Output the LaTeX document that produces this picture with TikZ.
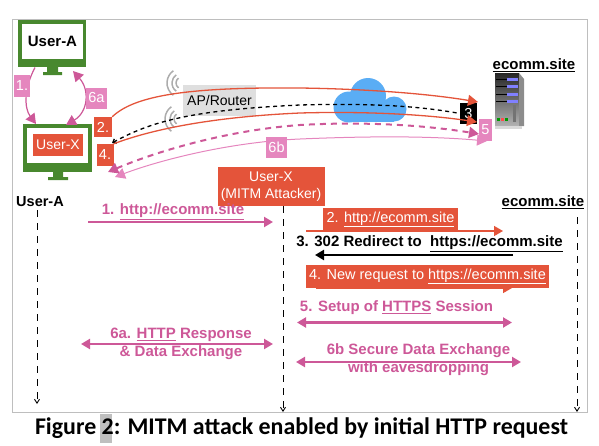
\documentclass[tikz,border=0pt]{standalone}
\usepackage{fontspec}
\usepackage{xcolor}
\usetikzlibrary{calc,arrows.meta,positioning}
\setmainfont{Liberation Sans}
\newfontfamily\captionfont{Carlito}
\definecolor{mitmGreen}{RGB}{72,136,46}
\definecolor{mitmRed}{RGB}{228,84,58}
\definecolor{mitmPink}{RGB}{205,88,152}
\definecolor{mitmPinkLight}{RGB}{229,134,190}
\definecolor{mitmBlue}{RGB}{90,173,245}
\definecolor{mitmFrame}{RGB}{190,190,190}
\tikzset{
    tag/.style={inner sep=0pt, text=white, font=\fontsize{14.5}{17}\selectfont},
    seqlabel/.style={inner sep=0pt, align=center, font=\bfseries\fontsize{15}{18}\selectfont},
    lifeline/.style={black, line width=0.9pt, dash pattern=on 7pt off 6pt, -{Straight Barb[length=4pt,width=5pt]}},
    seqarrow/.style={line width=2.2pt, -{Triangle[length=9pt,width=10pt]}},
    seqboth/.style={line width=2.2pt, {Triangle[length=9pt,width=10pt]}-{Triangle[length=9pt,width=10pt]}},
    link/.style={line width=1.3pt, -{Triangle[length=10pt,width=11pt]}},
    wave/.style={gray!65, line width=1.5pt},
}
\begin{document}
\begin{tikzpicture}[x=1pt,y=-1pt]
    \useasboundingbox (0,0) rectangle (599,445);
    \draw[mitmFrame, line width=0.9pt] (12.5,19.5) rectangle (587,412);

    % monitors
    \fill[mitmGreen] (47,66) rectangle (58,72) (43,72) rectangle (62,75);
    \fill[mitmGreen] (53,172) rectangle (63,177) (48,177) rectangle (68,180);
    \node[fill=mitmGreen, minimum width=68pt, minimum height=47pt, inner sep=0pt] (screenA) at (52,43.5) {};
    \node[fill=white, minimum width=61pt, minimum height=35pt, inner sep=0pt, font=\bfseries\fontsize{15}{18}\selectfont] (userA) at (52.5,41.5) {User-A};
    \node[fill=mitmGreen, minimum width=69pt, minimum height=48pt, inner sep=0pt] (screenX) at (57.5,148) {};
    \node[fill=white, minimum width=61pt, minimum height=35pt, inner sep=0pt] (innerX) at (57.5,145.5) {};
    \node[fill=mitmRed, text=white, minimum width=50pt, minimum height=22pt, inner sep=0pt, font=\fontsize{14}{17}\selectfont] (userX) at (58,145) {User-X};

    % hops between the two monitors
    \coordinate (fromA) at (35,67.5);
    \coordinate (toX) at (36,124);
    \coordinate (fromX) at (66,125);
    \coordinate (toA) at (73,71);
    \draw[mitmPink, line width=1.2pt, -{Triangle[length=10pt,width=11pt]}] (fromA) .. controls (24,88) and (24,108) .. (toX);
    \draw[mitmPink, line width=1.2pt, {Triangle[length=10pt,width=11pt]}-{Triangle[length=10pt,width=11pt]}] (fromX) .. controls (88,112) and (90,90) .. (toA);
    \node[tag, fill=mitmPinkLight, minimum width=16pt, minimum height=22pt] (hopOne) at (22,86) {1.};
    \node[tag, fill=mitmPinkLight, minimum width=21pt, minimum height=21pt] (hopSixA) at (96.5,98) {6a};

    % access point and cloud
    \node[fill=gray!25, minimum width=73pt, minimum height=31pt, inner sep=0pt, font=\fontsize{14}{17}\selectfont] (router) at (219.5,100) {AP/Router};
    \foreach \r in {6,10,15} {
        \draw[wave] ($(182,83)+(125:\r)$) arc (125:235:\r);
        \draw[wave] ($(180,119)+(125:\r)$) arc (125:235:\r);
    }
    \fill[mitmBlue] (368,96) circle (18) (349,107) circle (15.5) (394,109) circle (12.5);
    \fill[mitmBlue] (349,108) rectangle (394,122);

    % server
    \shade[top color=black!85, bottom color=black!30] (495,73) rectangle (519,126);
    \fill[black!45] (519,73) -- (524,79) -- (524,126) -- (519,126) -- cycle;
    \fill[black!15] (495,126) rectangle (522,128.5);
    \foreach \y in {80,87,95,102} {
        \draw[black, line width=0.8pt] (496,\y-1) -- (510,\y-1);
        \fill[blue!50!white] (507,\y-2) rectangle (518,\y+1);
    }
    \fill[black!55] (513,105) rectangle (516,122);
    \fill[green!60!black] (497,118) rectangle (500,121);
    \fill[red!70] (501,118) rectangle (504,121);
    \fill[green!60!black] (505,118) rectangle (508,121);
    \node[inner sep=0pt, font=\bfseries\fontsize{15}{18}\selectfont] (siteTop) at (534,65) {\underline{ecomm.site}};

    % paths across the network
    \node[tag, fill=black, minimum width=17pt, minimum height=21pt] (hopThree) at (468.5,113.5) {3};
    \node[tag, fill=mitmRed, minimum width=18pt, minimum height=20pt] (hopTwo) at (103,127) {2.};
    \node[tag, fill=mitmRed, minimum width=17pt, minimum height=22pt] (hopFour) at (105,155) {4.};
    \coordinate (tipTwo) at (478,102);
    \coordinate (tipFour) at (477,122);
    \coordinate (tipFiveL) at (108,172);
    \coordinate (tipFiveR) at (479,134);
    \coordinate (tipSixL) at (115,177);
    \coordinate (tipSixR) at (487,141);
    \draw[mitmPinkLight, line width=1pt, {Triangle[length=10pt,width=11pt]}-{Triangle[length=10pt,width=11pt]}] (tipSixL) .. controls (160,160) and (230,142) .. (300,139) .. controls (370,136) and (430,136) .. (tipSixR);
    \draw[mitmPink, line width=2pt, dash pattern=on 6pt off 5pt, {Triangle[length=10pt,width=11pt]}-{Triangle[length=10pt,width=11pt]}] (tipFiveL) .. controls (160,150) and (230,130) .. (300,125) .. controls (370,121) and (430,126) .. (tipFiveR);
    \draw[black, line width=1.3pt, dash pattern=on 4pt off 3.5pt, {Straight Barb[length=3pt,width=5pt]}-] (112,143) .. controls (150,122) and (190,110) .. (300,105) .. controls (370,103) and (420,106) .. (hopThree.west);
    \draw[link, mitmRed] (hopTwo.north east) .. controls (135,95) and (190,87) .. (300,88) .. controls (370,89) and (430,94) .. (tipTwo);
    \draw[link, mitmRed] (hopFour.north east) .. controls (150,130) and (210,117) .. (300,113) .. controls (370,111) and (430,115) .. (tipFour);
    \node[tag, fill=mitmPinkLight, minimum width=13pt, minimum height=22pt] (hopFive) at (485.5,130) {5};
    \node[tag, fill=mitmPinkLight, minimum width=21pt, minimum height=21pt] (hopSixB) at (276.5,147.5) {6b};

    % sequence heads
    \node[inner sep=0pt, font=\bfseries\fontsize{14.5}{18}\selectfont] (headA) at (40,202) {User-A};
    \node[fill=mitmRed, text=white, minimum width=107pt, minimum height=39pt, inner sep=0pt, align=center, font=\fontsize{14}{17}\selectfont] (headX) at (271,186.5) {User-X\\(MITM Attacker)};
    \node[inner sep=0pt, font=\bfseries\fontsize{15}{18}\selectfont] (headSite) at (543,202) {\underline{ecomm.site}};

    % life lines
    \coordinate (endA) at (37,404);
    \coordinate (endX) at (283,412);
    \coordinate (endSite) at (577,412);
    \draw[lifeline] (37,210) -- (endA);
    \draw[lifeline] (headX.south -| endX) -- (endX);
    \draw[lifeline] (577,217) -- (endSite);

    % messages
    \coordinate (m1a) at (88,222);
    \coordinate (m1b) at (273,222);
    \draw[seqarrow, mitmPink] (m1a) -- (m1b);
    \node[seqlabel, text=mitmPink] (msgOne) at (173,212) {1. \underline{http://ecomm.site}};

    \coordinate (m2a) at (306,231);
    \coordinate (m2b) at (503,231);
    \draw[seqarrow, mitmRed, line width=1.4pt] (m2a) -- (m2b);
    \node[tag, fill=mitmRed, minimum width=135pt, minimum height=23pt] (msgTwo) at (390.5,219.5) {2. \underline{http://ecomm.site}};

    \coordinate (m3a) at (513,255);
    \coordinate (m3b) at (315,255);
    \draw[seqarrow, black, line width=2.4pt] (m3a) -- (m3b);
    \node[seqlabel] (msgThree) at (429.5,244) {3. 302 Redirect to\ \ \underline{https://ecomm.site}};

    \coordinate (m4a) at (316,288);
    \coordinate (m4b) at (512,288);
    \draw[seqarrow, mitmRed, line width=1.4pt] (m4a) -- (m4b);
    \node[tag, fill=mitmRed, minimum width=243pt, minimum height=23pt] (msgFour) at (427.5,276.5) {4. New request to \underline{https://ecomm.site}};

    \coordinate (m5a) at (297,322.5);
    \coordinate (m5b) at (512,322.5);
    \draw[seqboth, mitmPink] (m5a) -- (m5b);
    \node[seqlabel, text=mitmPink] (msgFive) at (396.5,308) {5. Setup of \underline{HTTPS} Session};

    \coordinate (m6a) at (81,344);
    \coordinate (m6b) at (273,344);
    \draw[seqboth, mitmPink] (m6a) -- (m6b);
    \node[seqlabel, text=mitmPink] (msgSixA) at (181,344) {6a. \underline{HTTP} Response\\\& Data Exchange};

    \coordinate (m7a) at (296,362);
    \coordinate (m7b) at (521,362);
    \draw[seqboth, mitmPink] (m7a) -- (m7b);
    \node[seqlabel, text=mitmPink] (msgSixB) at (418.5,360) {6b Secure Data Exchange\\with eavesdropping};

    % caption
    \fill[gray!50] (100,414) rectangle (112,443);
    \node[inner sep=0pt, font=\captionfont\bfseries\fontsize{23.9}{28}\selectfont] (figCaption) at (301.5,428) {Figure 2: MITM attack enabled by initial HTTP request};
\end{tikzpicture}
\end{document}
